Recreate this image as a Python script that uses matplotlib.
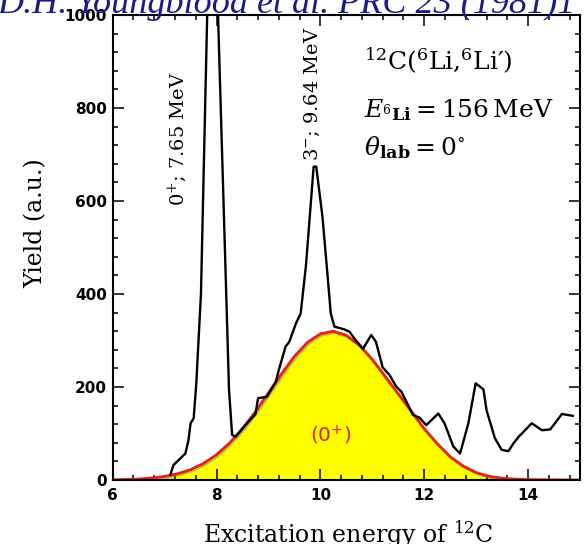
import matplotlib
matplotlib.use("Agg")
import matplotlib.pyplot as plt
import matplotlib.patheffects as pe
from matplotlib.ticker import MultipleLocator

# measured spectrum (black line)
ex_energy = [7.11, 7.17, 7.27, 7.40, 7.46, 7.50, 7.56, 7.61, 7.70, 7.91, 8.19, 8.24,
             8.30, 8.37, 8.50, 8.62, 8.75, 8.80, 8.97, 9.14, 9.20, 9.33, 9.40, 9.53,
             9.62, 9.72, 9.82, 9.87, 9.92, 10.04, 10.14, 10.20, 10.27, 10.46, 10.56,
             10.65, 10.82, 10.98, 11.07, 11.20, 11.33, 11.46, 11.56, 11.69, 11.78,
             11.91, 12.04, 12.14, 12.27, 12.39, 12.56, 12.69, 12.85, 12.99, 13.14,
             13.20, 13.36, 13.49, 13.62, 13.72, 13.81, 14.07, 14.27, 14.43, 14.65, 14.86]
yield_meas = [11, 32, 43, 57, 86, 122, 133, 208, 400, 1450, 387, 194,
              97, 93, 111, 126, 142, 176, 179, 211, 237, 287, 297, 337,
              358, 459, 602, 674, 674, 566, 437, 358, 330, 324, 319,
              305, 282, 312, 297, 242, 226, 201, 190, 161, 140,
              134, 118, 129, 143, 122, 72, 57, 122, 208, 195,
              150, 90, 65, 62, 79, 92, 122, 107, 109, 142, 138]

# broad (0+) component (yellow area)
fit_energy = [6.0, 6.25, 6.5, 6.75, 7.0, 7.25, 7.5, 7.75, 8.0, 8.25, 8.5, 8.75,
              9.0, 9.25, 9.5, 9.75, 10.0, 10.25, 10.5, 10.75, 11.0, 11.25, 11.5,
              11.75, 12.0, 12.25, 12.5, 12.75, 13.0, 13.25, 13.5, 13.75, 14.0,
              14.25, 14.5, 14.75, 15.0]
yield_fit = [0.5, 1.1, 2.2, 4.3, 7.8, 13.5, 22.4, 35.8, 54.5, 79.5, 110.6, 147,
             187.5, 228, 266, 296, 314.5, 320, 311, 290, 259, 222, 185,
             148, 110, 78, 50, 30, 16, 8, 4, 2, 1,
             0.5, 0.3, 0.2, 0.1]

fig = plt.figure(figsize=(5.86, 5.44), dpi=100)
ax = fig.add_axes([0.1923, 0.1176, 0.7975, 0.8548])

ax.fill_between(fit_energy, yield_fit, 0, color="#ffff00", lw=0, zorder=1)
ax.plot(fit_energy, yield_fit, color="#e8201a", lw=2.0, zorder=2,
        path_effects=[pe.SimpleLineShadow(offset=(1, -1), shadow_color="gray", alpha=0.5),
                      pe.Normal()])
ax.plot(ex_energy, yield_meas, color="black", lw=1.7, zorder=3)

ax.set_xlim(6, 15)
ax.set_ylim(0, 1000)
ax.xaxis.set_major_locator(MultipleLocator(2))
ax.xaxis.set_minor_locator(MultipleLocator(0.4))
ax.yaxis.set_major_locator(MultipleLocator(200))
ax.yaxis.set_minor_locator(MultipleLocator(40))
ax.tick_params(which="both", direction="in", top=True, right=True, width=1.1)
ax.tick_params(which="major", length=8, labelsize=11)
ax.tick_params(which="minor", length=3.8)
ax.tick_params(axis="x", pad=6)
ax.tick_params(axis="y", pad=4)
for lbl in ax.get_xticklabels() + ax.get_yticklabels():
    lbl.set_fontweight("bold")
for sp in ax.spines.values():
    sp.set_linewidth(1.5)

serif = "DejaVu Serif"
ax.text(-0.165, 0.553, "Yield (a.u.)", rotation=90, ha="center", va="center",
        transform=ax.transAxes, family=serif, fontsize=17)
ax.text(0.504, -0.1355, r"Excitation energy of $^{12}$C", ha="center", va="baseline",
        transform=ax.transAxes, family=serif, fontsize=17, math_fontfamily="dejavuserif")

ax.text(7.24, 735, r"0$^{+}$; 7.65 MeV", rotation=90, ha="center", va="center",
        family=serif, fontsize=14, math_fontfamily="dejavuserif")
ax.text(9.85, 832, r"3$^{-}$; 9.64 MeV", rotation=90, ha="center", va="center",
        family=serif, fontsize=14, math_fontfamily="dejavuserif")

ax.text(10.84, 882, r"$^{12}$C($^{6}$Li,$^{6}$Li′)", va="baseline",
        family=serif, fontsize=18, math_fontfamily="dejavuserif")
ax.text(10.84, 781, r"$E_{^{6}\mathbf{Li}} = 156\,\mathrm{MeV}$", va="baseline",
        fontsize=18, math_fontfamily="dejavuserif")
ax.text(10.84, 699, r"$\theta_{\mathbf{lab}} = 0^{\circ}$", va="baseline",
        fontsize=18, math_fontfamily="dejavuserif")

ax.text(10.2, 95, r"(0$^{+}$)", ha="center", va="center", color="#e0201a",
        fontsize=14.5, math_fontfamily="dejavusans", zorder=4)

fig.text(-0.004, 0.976, "D.H. Youngblood et al. PRC 23 (1981)1", va="baseline",
         family="Liberation Serif", style="italic", fontsize=26, color="#1a1a8a")

fig.savefig("out.png", dpi=100)
